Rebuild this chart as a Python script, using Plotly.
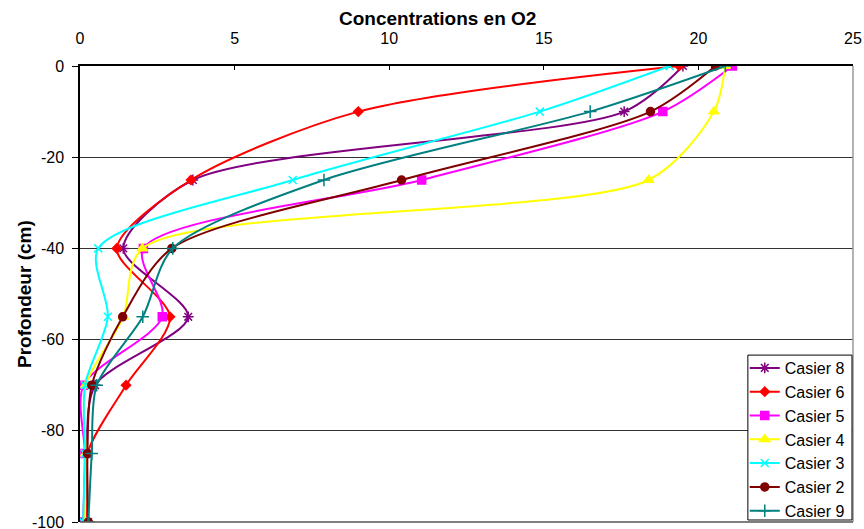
import plotly.graph_objects as go

depths = [0, -10, -25, -40, -55, -70, -85, -100]

casier8 = [19.5, 17.6, 3.65, 1.4, 3.5, 0.49, 0.22, 0.26]
casier6 = [19.38, 9.0, 3.59, 1.19, 2.91, 1.49, 0.24, 0.24]
casier5 = [21.1, 18.85, 11.05, 2.05, 2.66, 0.11, 0.16, 0.1]
casier4 = [20.87, 20.5, 18.39, 2.02, 1.4, 0.19, 0.19, 0.16]
casier3 = [19.07, 14.87, 6.88, 0.59, 0.9, 0.16, 0.16, 0.1]
casier2 = [20.55, 18.45, 10.4, 2.97, 1.38, 0.38, 0.24, 0.27]
casier9 = [20.87, 16.5, 7.89, 3.0, 2.03, 0.54, 0.38, 0.27]

names = ["Casier 8", "Casier 6", "Casier 5", "Casier 4", "Casier 3", "Casier 2", "Casier 9"]
values = [casier8, casier6, casier5, casier4, casier3, casier2, casier9]
colors = ["#800080", "#FF0000", "#FF00FF", "#FFFF00", "#00FFFF", "#800000", "#008080"]
symbols = ["asterisk-open", "diamond", "square", "triangle-up", "x-thin-open", "circle", "cross-thin-open"]
sizes = [9, 7, 8, 9, 8, 8, 9]

x_ticks = [0, 5, 10, 15, 20, 25]
y_ticks = [0, -20, -40, -60, -80, -100]
y_ticktext = ["0", "-20", "-40", "-60", "-80", "-100"]

fig = go.Figure()
for i, (name, vals, color, sym, size) in enumerate(zip(names, values, colors, symbols, sizes)):
    fig.add_trace(go.Scatter(
        x=vals, y=depths, name=name, mode="lines+markers",
        line=dict(color=color, width=2, shape="spline", smoothing=0.8),
        marker=dict(symbol=sym, size=size, color=color,
                    line=dict(color=color, width=1.5)),
    ))

fig.update_layout(
    width=864, height=529,
    margin=dict(l=80, r=11, t=66, b=7, autoexpand=False),
    paper_bgcolor="white", plot_bgcolor="white",
    font=dict(family="Liberation Sans, Arial, sans-serif", size=16, color="black"),
    showlegend=True,
    legend=dict(
        xref="container", yref="container",
        x=0.862, y=0.3365, xanchor="left", yanchor="top",
        borderwidth=0, bgcolor="rgba(0,0,0,0)",
        font=dict(size=16), traceorder="normal",
        itemwidth=30,
    ),
    xaxis=dict(
        side="top", range=[0, 25], tickvals=x_ticks,
        showgrid=False, zeroline=False, automargin=False,
        showline=True, linecolor="black", linewidth=1.5,
        ticks="inside", ticklen=4, tickcolor="black",
        ticklabelstandoff=14, ticklabeloverflow="allow",
    ),
    yaxis=dict(
        range=[-100, 0], tickvals=y_ticks, ticktext=y_ticktext,
        showgrid=True, gridcolor="#333333", gridwidth=1,
        zeroline=False, showline=True, linecolor="black", linewidth=1.5,
        ticks="outside", ticklen=6, tickcolor="black", automargin=False,
        ticklabelstandoff=5, ticklabeloverflow="allow",
    ),
    annotations=[
        dict(text="<b>Concentrations en O2</b>", xref="paper", yref="paper",
             x=0.462, y=1.105, showarrow=False, font=dict(size=19),
             xanchor="center", yanchor="middle"),
        dict(text="<b>Profondeur (cm)</b>", xref="paper", yref="paper",
             x=-0.0724, y=0.5, showarrow=False, textangle=-90,
             font=dict(size=19), xanchor="center", yanchor="middle"),
    ],
    shapes=[
        dict(type="line", xref="paper", yref="paper", x0=1, x1=1, y0=0, y1=1,
             line=dict(color="#999999", width=1.5)),
        dict(type="line", xref="paper", yref="paper", x0=0, x1=1, y0=0, y1=0,
             line=dict(color="#555555", width=1.5)),
        dict(type="rect", xref="paper", yref="paper", x0=0.864, x1=0.9987,
             y0=0.0044, y1=0.366, fillcolor="white", layer="above",
             line=dict(color="black", width=1)),
    ],
)

fig.write_html("out.html", config={"displayModeBar": False},
               post_script="document.body.style.margin='0';document.body.style.overflow='hidden';")
